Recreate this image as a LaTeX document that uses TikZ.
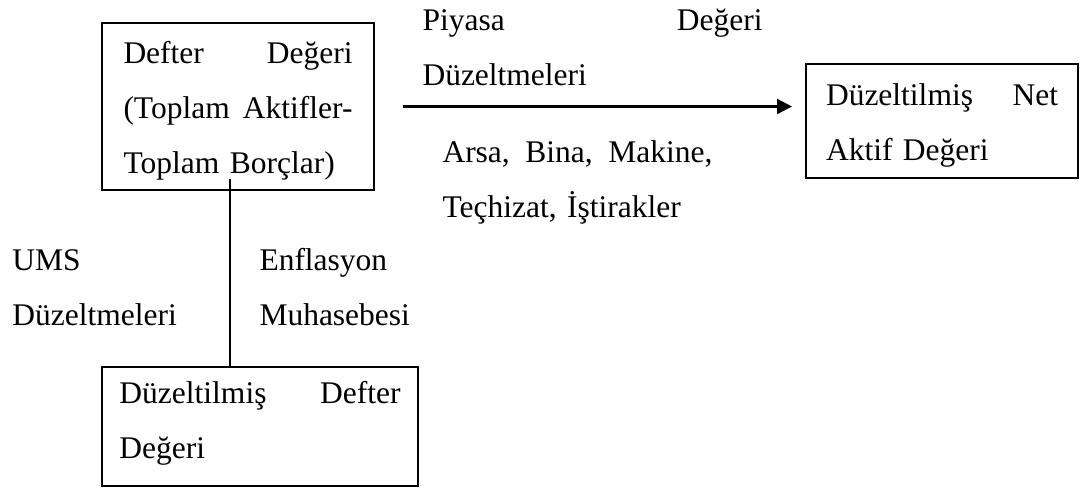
\documentclass[tikz,border=0pt]{standalone}
\usepackage{fontspec}
\setmainfont{Liberation Serif}
\usetikzlibrary{arrows.meta}
\tikzset{
  valuebox/.style={draw, line width=0.8pt, inner sep=0pt, align=left, text height=0pt,
    font=\fontsize{12.6}{22}\selectfont},
  note/.style={anchor=base west, inner sep=0pt, align=left,
    font=\fontsize{12.6}{22}\selectfont},
}
\begin{document}
\begin{tikzpicture}[x=0.4pt,y=-0.4pt]
\useasboundingbox (0,0) rectangle (1085,488);
% Boxes
\node[valuebox, minimum width=108.8pt, minimum height=66.8pt, text width=91.6pt, text depth=34.8pt] (defter) at (238,106.5)
  {Defter\hfill Değeri\\(Toplam\hfill Aktifler-\\Toplam Borçlar)};
\node[valuebox, minimum width=108.8pt, minimum height=45.6pt, text width=92.8pt, text depth=12.8pt] (net) at (942,121)
  {Düzeltilmiş\hfill Net\\Aktif Değeri};
\node[valuebox, minimum width=126.4pt, minimum height=47.6pt, text width=112.4pt, text depth=18.8pt] (ude) at (260,426.5)
  {Düzeltilmiş\hfill Defter\\Değeri};

% Connectors
\draw[line width=0.9pt, -{Triangle[length=6pt,width=6pt]}, shorten <=11.2pt, shorten >=5.2pt]
  (defter.east) -- (defter.east -| net.west);
\draw[line width=0.8pt] ([xshift=-3.2pt,yshift=4.8pt]defter.south) -- ([xshift=-3.2pt]defter.south |- ude.north);

% Labels
\node[note, text width=136pt] (piyasa) at (422,30) {Piyasa\hfill Değeri\\Düzeltmeleri};
\node[note, text width=108pt] (varlik) at (442,162) {Arsa,\hfill Bina,\hfill Makine,\\Teçhizat, İştirakler};
\node[note, text width=72pt] (ums) at (12,270) {UMS\\Düzeltmeleri};
\node[note, text width=72pt] (enf) at (259,270) {Enflasyon\\Muhasebesi};
\end{tikzpicture}
\end{document}
